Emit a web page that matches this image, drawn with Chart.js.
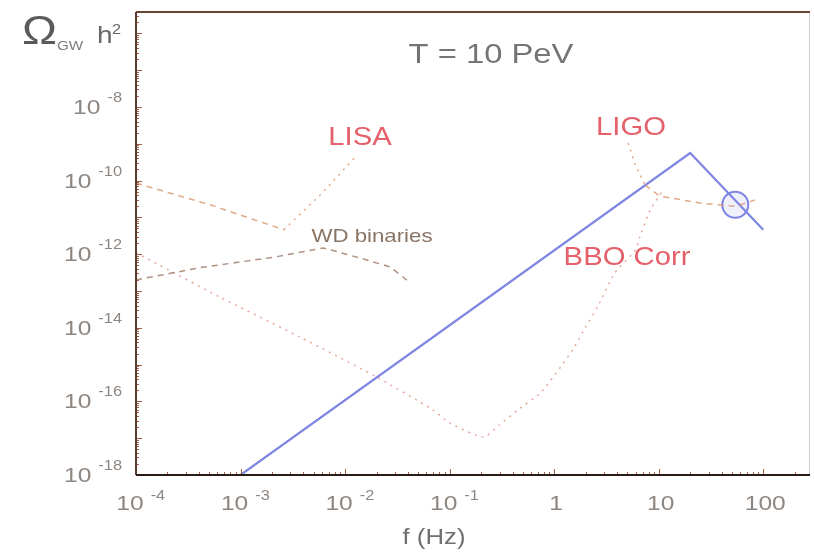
<!DOCTYPE html>
<html>
<head>
<meta charset="utf-8">
<script src="https://cdn.jsdelivr.net/npm/chart.js@4.4.1/dist/chart.umd.min.js"></script>
<style>
  body { margin: 0; background: #fff; }
  canvas { display: block; }
</style>
</head>
<body>
<canvas id="gw" width="814" height="552"></canvas>
<script>
// tick positions / labels
const freqTicks = [1e-4, 1e-3, 1e-2, 1e-1, 1, 10, 100];
const freqTickLabels = [['10', '-4'], ['10', '-3'], ['10', '-2'], ['10', '-1'], ['1', ''], ['10', ''], ['100', '']];
const omegaTicks = [1e-8, 1e-10, 1e-12, 1e-14, 1e-16, 1e-18];
const omegaTickLabels = [['10', '-8'], ['10', '-10'], ['10', '-12'], ['10', '-14'], ['10', '-16'], ['10', '-18']];

// signal, T = 10 PeV
const signalF = [1e-3, 20, 100];
const signalOmega = [1e-18, 5.6e-10, 4.6e-12];
const markerF = [54];
const markerOmega = [2.2e-11];

// LISA sensitivity (first part dashed, then dotted)
const lisaF = [1e-4, 5.1e-4, 2.6e-3, 5.8e-3, 1.26e-2];
const lisaOmega = [8.5e-11, 2.2e-11, 4.6e-12, 4.1e-11, 4.4e-10];

// WD binaries foreground
const wdF = [1e-4, 4.1e-4, 2.1e-3, 6.2e-3, 1.38e-2, 2.7e-2, 4.2e-2];
const wdOmega = [2.0e-13, 4.3e-13, 8.3e-13, 1.48e-12, 7.9e-13, 4.5e-13, 1.66e-13];

// BBO correlated
const bboF = [1e-4, 6.3e-4, 3.7e-3, 2.0e-2, 6.9e-2, 0.1, 0.21, 0.30, 0.45, 0.74, 1.15, 1.5, 2.0, 2.6, 3.8, 6.0, 6.6, 8.3, 11];
const bboOmega = [1.1e-12, 6.9e-14, 5.6e-15, 4.6e-16, 5.9e-17, 2.6e-17, 1.07e-17, 2.3e-17, 5.9e-17, 1.7e-16, 8.5e-16, 2.5e-15, 1.05e-14, 3.7e-14, 3.1e-13, 1.3e-12, 2.95e-12, 1.6e-11, 5.5e-11];

// LIGO (upper part dotted, bucket dashed)
const ligoF = [5.1, 6.0, 7.4, 10.2, 25, 54, 83];
const ligoOmega = [1.05e-9, 2.6e-10, 7.6e-11, 3.8e-11, 2.45e-11, 2.0e-11, 2.95e-11];

const pts = (xs, ys) => xs.map((x, i) => ({ x: x, y: ys[i] }));

const STRETCH = 1.17;
const FONT = '"Liberation Sans", Arial, sans-serif';

function txt(ctx, s, x, y, size, color, align) {
  ctx.save();
  ctx.font = size + 'px ' + FONT;
  ctx.fillStyle = color;
  ctx.textBaseline = 'alphabetic';
  const w = ctx.measureText(s).width * STRETCH;
  let left = x;
  if (align === 'center') left = x - w / 2;
  else if (align === 'right') left = x - w;
  ctx.translate(left, y);
  ctx.scale(STRETCH, 1);
  ctx.textAlign = 'left';
  ctx.fillText(s, 0, 0);
  ctx.restore();
  return w;
}
function txtWidth(ctx, s, size) {
  ctx.save();
  ctx.font = size + 'px ' + FONT;
  const w = ctx.measureText(s).width * STRETCH;
  ctx.restore();
  return w;
}

const framePlugin = {
  id: 'frame',
  afterDatasetsDraw(chart) {
    const ctx = chart.ctx;
    const a = chart.chartArea;
    const xs = chart.scales.x, ys = chart.scales.y;

    // minor + major ticks, pointing inward
    ctx.save();
    ctx.strokeStyle = '#a0604a';
    ctx.lineWidth = 1;
    for (let e = -4; e <= 2; e++) {
      for (let k = 1; k <= 9; k++) {
        const v = k * Math.pow(10, e);
        if (v < xs.min || v > xs.max) continue;
        const px = Math.round(xs.getPixelForValue(v)) + 0.5;
        const len = k === 1 ? 6 : 3;
        ctx.beginPath(); ctx.moveTo(px, a.bottom); ctx.lineTo(px, a.bottom - len); ctx.stroke();
      }
    }
    for (let e = -18; e <= -6; e++) {
      for (let k = 1; k <= 9; k++) {
        const v = k * Math.pow(10, e);
        if (v < ys.min || v > ys.max) continue;
        const py = Math.round(ys.getPixelForValue(v)) + 0.5;
        const len = k === 1 ? 6 : 3;
        ctx.beginPath(); ctx.moveTo(a.left, py); ctx.lineTo(a.left + len, py); ctx.stroke();
      }
    }
    ctx.restore();

    // frame
    ctx.save();
    ctx.lineWidth = 1;
    ctx.strokeStyle = '#d0d0d0';
    ctx.beginPath(); ctx.moveTo(a.right - 0.5, a.top); ctx.lineTo(a.right - 0.5, a.bottom); ctx.stroke();
    ctx.lineWidth = 2;
    ctx.strokeStyle = '#6a4535';
    ctx.beginPath(); ctx.moveTo(a.left, a.top); ctx.lineTo(a.right, a.top); ctx.stroke();
    ctx.strokeStyle = '#5a3a2c';
    ctx.beginPath(); ctx.moveTo(a.left, a.top); ctx.lineTo(a.left, a.bottom); ctx.stroke();
    ctx.strokeStyle = '#2a1c14';
    ctx.beginPath(); ctx.moveTo(a.left, a.bottom); ctx.lineTo(a.right, a.bottom); ctx.stroke();
    ctx.restore();

    // tick labels
    const tickCol = '#8e8680';
    freqTicks.forEach((v, i) => {
      const px = xs.getPixelForValue(v);
      const base = freqTickLabels[i][0], ex = freqTickLabels[i][1];
      if (ex === '') {
        txt(ctx, base, px + 2, a.bottom + 35, 21, tickCol, 'center');
      } else {
        const wb = txtWidth(ctx, base, 21);
        const bx = px - 6 - wb / 2;
        txt(ctx, base, bx, a.bottom + 35, 21, tickCol, 'left');
        txt(ctx, ex, bx + wb + 7, a.bottom + 25, 14, tickCol, 'left');
      }
    });
    omegaTicks.forEach((v, i) => {
      const py = ys.getPixelForValue(v);
      const base = omegaTickLabels[i][0], ex = omegaTickLabels[i][1];
      const we = txt(ctx, ex, 122, py - 5, 14, tickCol, 'right');
      txt(ctx, base, 122 - we - 7, py + 7, 21, tickCol, 'right');
    });

    // axis titles
    txt(ctx, '\u03A9', 22, 44, 40, '#5a5a5a', 'left');
    txt(ctx, 'GW', 57, 50, 13, '#7a7a7a', 'left');
    txt(ctx, 'h', 97, 43, 24, '#6a6a6a', 'left');
    txt(ctx, '2', 112, 34, 14, '#6a6a6a', 'left');
    txt(ctx, 'f (Hz)', 434, 544, 22, '#707070', 'center');

    // annotations
    txt(ctx, 'T = 10 PeV', 491, 63, 28, '#747474', 'center');
    txt(ctx, 'LISA', 360, 145, 25, '#e4606a', 'center');
    txt(ctx, 'LIGO', 631, 135, 25, '#e4606a', 'center');
    txt(ctx, 'BBO Corr', 627, 265, 25, '#e4606a', 'center');
    txt(ctx, 'WD binaries', 372, 242, 19, '#8a7464', 'center');
  }
};

const dashed = [6, 5];
const dotted = [2, 5];

new Chart(document.getElementById('gw'), {
  type: 'scatter',
  data: {
    datasets: [
      {
        label: 'LISA', data: pts(lisaF, lisaOmega), showLine: true,
        borderColor: 'rgba(214,140,100,0.75)', borderWidth: 1.5, pointRadius: 0,
        segment: { borderDash: c => c.p0DataIndex >= 2 ? dotted : dashed }
      },
      {
        label: 'WD binaries', data: pts(wdF, wdOmega), showLine: true,
        borderColor: 'rgba(150,110,90,0.75)', borderWidth: 1.5, pointRadius: 0,
        borderDash: dashed
      },
      {
        label: 'BBO Corr', data: pts(bboF, bboOmega), showLine: true,
        borderColor: 'rgba(220,140,120,0.75)', borderWidth: 1.5, pointRadius: 0,
        borderDash: dotted, tension: 0.2
      },
      {
        label: 'LIGO', data: pts(ligoF, ligoOmega), showLine: true,
        borderColor: 'rgba(214,140,100,0.75)', borderWidth: 1.5, pointRadius: 0,
        segment: { borderDash: c => c.p0DataIndex >= 2 ? dashed : dotted }
      },
      {
        label: 'T = 10 PeV', data: pts(signalF, signalOmega), showLine: true,
        borderColor: '#7f86e2', borderWidth: 2.2, pointRadius: 0
      },
      {
        label: 'marker', data: pts(markerF, markerOmega), showLine: false,
        pointRadius: 13, pointBorderWidth: 2, pointBorderColor: '#7f86e2',
        pointBackgroundColor: 'rgba(127,134,226,0.12)'
      }
    ]
  },
  options: {
    responsive: false,
    animation: false,
    devicePixelRatio: 1,
    layout: { autoPadding: false, padding: { left: 136, top: 12, right: 4, bottom: 77 } },
    plugins: { legend: { display: false }, tooltip: { enabled: false } },
    scales: {
      x: { type: 'logarithmic', min: 1e-4, max: 280, display: false },
      y: { type: 'logarithmic', min: 1e-18, max: 3.8e-6, display: false }
    }
  },
  plugins: [framePlugin]
});
</script>
</body>
</html>
